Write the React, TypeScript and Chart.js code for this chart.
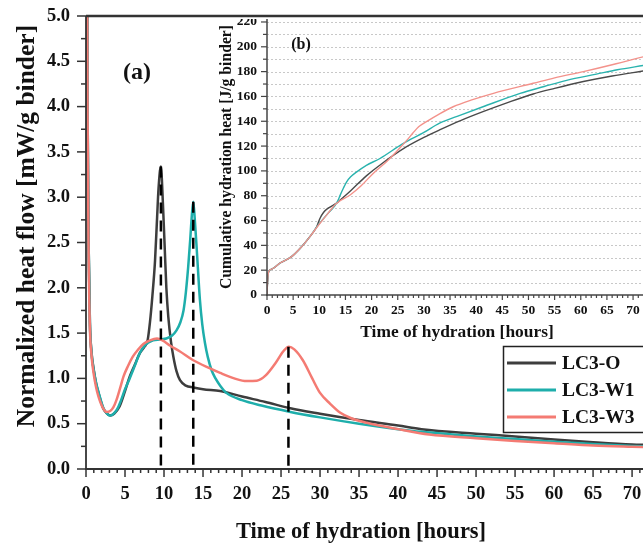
import React, { useEffect, useRef } from 'react';
import { Chart, registerables } from 'chart.js';

Chart.register(...registerables);

const FONT = "'Liberation Serif', 'Times New Roman', serif";

const seriesLabels = ['LC3-O', 'LC3-W1', 'LC3-W3'];
const seriesColors = ['#3d3d3d', '#1eaeab', '#f47b73'];
const insetColors = ['#4a4a4a', '#2ab3ae', '#f3928b'];

// ---- (a) normalized heat flow [mW/g binder] ----
const lc3oTime = [0.05, 0.2, 0.35, 0.5, 0.7, 0.95, 1.3, 1.6, 2.2, 2.6, 3.1, 3.6, 4.3, 5.0, 5.6, 6.3, 6.9, 7.5, 7.9, 8.2, 8.5, 8.85, 9.1, 9.3, 9.6, 9.85, 10.1, 10.3, 10.55, 10.9, 11.2, 11.6, 12.05, 12.8, 13.75, 15, 17.2, 20, 23, 26.2, 30, 35, 40, 43, 50, 55, 60, 65, 70, 72];
const lc3oHeat = [9, 4.0, 2.4, 1.62, 1.3, 1.12, 0.94, 0.84, 0.67, 0.62, 0.59, 0.61, 0.69, 0.86, 1.02, 1.16, 1.28, 1.35, 1.42, 1.62, 1.9, 2.3, 2.75, 3.1, 3.34, 2.95, 2.42, 2.0, 1.68, 1.4, 1.24, 1.08, 0.98, 0.92, 0.9, 0.88, 0.86, 0.8, 0.74, 0.67, 0.61, 0.54, 0.48, 0.44, 0.39, 0.36, 0.325, 0.295, 0.27, 0.265];

const lc3w1Time = [0.05, 0.2, 0.35, 0.5, 0.7, 0.95, 1.3, 1.6, 2.2, 2.6, 3.0, 3.4, 4.0, 4.5, 5.0, 5.6, 6.3, 6.9, 7.6, 8.6, 9.5, 10.3, 11.0, 11.6, 12.1, 12.5, 12.8, 13.1, 13.35, 13.55, 13.75, 13.95, 14.2, 14.6, 14.9, 15.25, 15.6, 16.1, 16.6, 17.2, 18, 20, 22.5, 26.2, 30, 35, 40, 43, 50, 55, 60, 65, 70, 72];
const lc3w1Heat = [9, 4.0, 2.4, 1.61, 1.29, 1.11, 0.95, 0.85, 0.68, 0.62, 0.59, 0.6, 0.66, 0.76, 0.88, 1.0, 1.15, 1.28, 1.37, 1.42, 1.43, 1.44, 1.47, 1.53, 1.62, 1.75, 1.95, 2.23, 2.52, 2.78, 2.95, 2.75, 2.42, 1.87, 1.6, 1.39, 1.24, 1.09, 1.0, 0.92, 0.84, 0.76, 0.7, 0.63, 0.57, 0.5, 0.44, 0.41, 0.36, 0.33, 0.3, 0.275, 0.255, 0.25];

const lc3w3Time = [0.05, 0.2, 0.35, 0.5, 0.7, 0.95, 1.3, 1.6, 2.2, 2.65, 3.1, 3.5, 3.9, 4.4, 4.8, 5.4, 6.0, 6.7, 7.35, 8.2, 9.1, 9.8, 10.8, 12, 13.75, 15.9, 17.2, 19, 20.6, 21.9, 23, 24.3, 25.3, 26.0, 26.7, 27.8, 29, 30, 31.3, 32.6, 34, 36, 40, 44, 50, 55, 60, 65, 70, 72];
const lc3w3Heat = [9, 3.9, 2.3, 1.56, 1.26, 1.07, 0.9, 0.8, 0.67, 0.63, 0.64, 0.68, 0.76, 0.9, 1.02, 1.14, 1.24, 1.32, 1.38, 1.42, 1.44, 1.42, 1.36, 1.3, 1.2, 1.11, 1.06, 1.0, 0.97, 0.975, 1.03, 1.17, 1.3, 1.35, 1.32, 1.2, 1.0, 0.84, 0.72, 0.62, 0.56, 0.51, 0.44, 0.38, 0.34, 0.31, 0.285, 0.26, 0.245, 0.24];

const peakTimes = [9.6, 13.75, 25.95];
const peakHeats = [3.34, 2.95, 1.35];

const mainXTicks = [0, 5, 10, 15, 20, 25, 30, 35, 40, 45, 50, 55, 60, 65, 70];
const mainYTicks = [0, 0.5, 1, 1.5, 2, 2.5, 3, 3.5, 4, 4.5, 5];

// ---- (b) cumulative hydration heat [J/g binder] ----
const lc3oCumTime = [0, 0.1, 0.3, 1, 2.5, 4.7, 6.4, 8.2, 9.5, 10.1, 10.8, 11.7, 13.3, 14, 16, 19, 22, 26.7, 30, 33, 37, 41.3, 46, 50.9, 55, 60.5, 66, 72];
const lc3oCum = [0, 10, 18.5, 21, 25.8, 30.9, 37.8, 47, 55, 61.5, 66.5, 70, 74, 76.5, 84, 96, 106, 119.5, 127, 133, 140.5, 147.7, 155, 162, 166.5, 172, 176.5, 180.5];

const lc3w1CumTime = [0, 0.1, 0.3, 1, 2.5, 4.7, 6.4, 8.2, 9.8, 11.7, 13.0, 13.6, 14.0, 14.6, 15.2, 16, 17.1, 19, 21.6, 26, 30, 33, 37, 41.3, 48.4, 53, 57.3, 63, 67, 72];
const lc3w1Cum = [0, 10, 18.5, 21, 25.8, 30.9, 37.8, 47, 56.4, 66, 72, 76.5, 80.5, 86, 91, 95.2, 99, 104.5, 110, 122, 131, 138.5, 145, 151.7, 162.5, 168, 173, 178, 181.5, 185];

const lc3w3CumTime = [0, 0.1, 0.3, 1, 2.5, 4.7, 6.4, 8.2, 9.8, 11.7, 13.3, 15.9, 18, 20.3, 23, 25.4, 26.8, 27.9, 29, 30.5, 33, 35.6, 39, 43.3, 50.9, 55, 60.5, 66, 72];
const lc3w3Cum = [0, 10, 18.5, 21, 25.8, 30.9, 37.8, 47, 56, 66, 74, 80.6, 88, 98, 108, 118.5, 125, 130.5, 135.5, 139.7, 146, 151.7, 157, 162.5, 170.6, 175, 180, 185.5, 192];

const insetXTicks = [0, 5, 10, 15, 20, 25, 30, 35, 40, 45, 50, 55, 60, 65, 70];
const insetYTicks = [0, 20, 40, 60, 80, 100, 120, 140, 160, 180, 200, 220];

const toPts = (xs: number[], ys: number[]) => xs.map((x, i) => ({ x, y: ys[i] }));

function line(ctx: CanvasRenderingContext2D, x1: number, y1: number, x2: number, y2: number) {
  ctx.beginPath();
  ctx.moveTo(x1, y1);
  ctx.lineTo(x2, y2);
  ctx.stroke();
}

function text(ctx: CanvasRenderingContext2D, s: string, x: number, y: number, size: number, rot = 0, align: CanvasTextAlign = 'center') {
  ctx.save();
  ctx.translate(x, y);
  if (rot) ctx.rotate(rot);
  ctx.font = `bold ${size}px ${FONT}`;
  ctx.fillStyle = '#111';
  ctx.textAlign = align;
  ctx.textBaseline = 'middle';
  ctx.fillText(s, 0, 0);
  ctx.restore();
}

const mainDecor = {
  id: 'mainDecor',
  afterDraw(chart: any) {
    const { ctx, chartArea: a, scales } = chart;
    const xs = scales.x;
    const ys = scales.y;
    ctx.save();
    ctx.strokeStyle = '#333';
    ctx.lineWidth = 1.5;
    for (let i = 0; i <= Math.floor(xs.max); i++) {
      const x = xs.getPixelForValue(i);
      line(ctx, x, a.bottom, x, a.bottom + (i % 5 === 0 ? 8 : 4));
    }
    for (let i = 0; i <= 20; i++) {
      const y = ys.getPixelForValue(i * 0.25);
      line(ctx, a.left - (i % 2 === 0 ? 9 : 5), y, a.left, y);
    }
    ctx.lineWidth = 1.8;
    line(ctx, a.left, a.top, a.left, a.bottom + 1);
    line(ctx, a.left - 1, a.bottom, a.right, a.bottom);
    ctx.lineWidth = 2.5;
    line(ctx, a.left, a.top, a.right, a.top);

    text(ctx, 'Normalized heat flow [mW/g binder]', 27, 226, 25.5, -Math.PI / 2);
    text(ctx, 'Time of hydration [hours]', 361, 532, 22.5);
    text(ctx, '(a)', 137, 73, 24);

    // legend
    ctx.fillStyle = '#fff';
    ctx.fillRect(503, 346, 160, 86);
    ctx.strokeStyle = '#222';
    ctx.lineWidth = 1.5;
    ctx.strokeRect(503.5, 346.5, 160, 86);
    seriesLabels.forEach((lab, i) => {
      const y = 363 + i * 27;
      ctx.strokeStyle = seriesColors[i];
      ctx.lineWidth = 3;
      line(ctx, 507, y, 556, y);
      text(ctx, lab, 562, y + 1, 19.5, 0, 'left');
    });
    ctx.restore();
  },
};

const insetDecor = {
  id: 'insetDecor',
  beforeDatasetsDraw(chart: any) {
    const { ctx, chartArea: a, scales } = chart;
    const ys = scales.y;
    ctx.save();
    ctx.strokeStyle = '#c8c8c8';
    ctx.lineWidth = 1;
    ctx.setLineDash([2, 2]);
    for (let v = 10; v <= ys.max; v += 10) {
      const y = Math.round(ys.getPixelForValue(v)) + 0.5;
      line(ctx, a.left, y, a.right, y);
    }
    ctx.restore();
  },
  afterDraw(chart: any) {
    const { ctx, chartArea: a, scales } = chart;
    const xs = scales.x;
    const ys = scales.y;
    ctx.save();
    ctx.strokeStyle = '#444';
    ctx.lineWidth = 1.2;
    for (let i = 0; i <= Math.floor(xs.max); i++) {
      const x = xs.getPixelForValue(i);
      line(ctx, x, a.bottom, x, a.bottom + (i % 5 === 0 ? 5 : 3));
    }
    for (let v = 0; v <= ys.max; v += 10) {
      const y = ys.getPixelForValue(v);
      line(ctx, a.left - (v % 20 === 0 ? 6 : 4), y, a.left, y);
    }
    ctx.lineWidth = 1.5;
    line(ctx, a.left, a.top, a.left, a.bottom + 1);
    line(ctx, a.left - 1, a.bottom, a.right, a.bottom);

    text(ctx, 'Cumulative hydration heat [J/g binder]', 19, (a.top + a.bottom) / 2, 15.7, -Math.PI / 2);
    text(ctx, 'Time of hydration [hours]', 249, 314, 17.4);
    text(ctx, '(b)', 93, 26, 16);
    ctx.restore();
  },
};

const tickFont = (size: number) => ({ family: FONT, size, weight: 'bold' as const });

export default function App() {
  const mainRef = useRef<HTMLCanvasElement>(null);
  const insetRef = useRef<HTMLCanvasElement>(null);

  useEffect(() => {
    const curve = (label: string, pts: any[], color: string, w: number) => ({
      label,
      data: pts,
      borderColor: color,
      backgroundColor: color,
      borderWidth: w,
      pointRadius: 0,
      fill: false,
      cubicInterpolationMode: 'monotone' as const,
    });
    const dashes = peakTimes.map((t, i) => ({
      label: 'peak' + i,
      data: [{ x: t, y: peakHeats[i] }, { x: t, y: 0 }],
      borderColor: '#000',
      borderWidth: 2.5,
      borderDash: [11, 7],
      pointRadius: 0,
      fill: false,
    }));

    const main = new Chart(mainRef.current!, {
      type: 'line',
      data: {
        datasets: [
          ...dashes,
          curve(seriesLabels[2], toPts(lc3w3Time, lc3w3Heat), seriesColors[2], 2.5),
          curve(seriesLabels[1], toPts(lc3w1Time, lc3w1Heat), seriesColors[1], 2.5),
          curve(seriesLabels[0], toPts(lc3oTime, lc3oHeat), seriesColors[0], 2.5),
        ] as any,
      },
      options: {
        responsive: false,
        animation: false,
        events: [],
        layout: { padding: { top: 16, left: 0, right: 0, bottom: 0 } },
        plugins: { legend: { display: false }, tooltip: { enabled: false } },
        scales: {
          x: {
            type: 'linear',
            min: 0,
            max: 71.4,
            afterBuildTicks: (s: any) => { s.ticks = mainXTicks.map((value) => ({ value })); },
            afterFit: (s: any) => { s.height = 77; s.paddingLeft = 0; s.paddingRight = 0; },
            grid: { display: false, drawTicks: false },
            border: { display: false },
            ticks: { padding: 14, font: tickFont(18.5), color: '#111', maxRotation: 0, autoSkip: false },
          },
          y: {
            type: 'linear',
            min: 0,
            max: 5,
            afterBuildTicks: (s: any) => { s.ticks = mainYTicks.map((value) => ({ value })); },
            afterFit: (s: any) => { s.width = 86; s.paddingTop = 0; s.paddingBottom = 0; },
            grid: { display: false, drawTicks: false },
            border: { display: false },
            ticks: { padding: 16, font: tickFont(18.5), color: '#111', callback: (v: any) => Number(v).toFixed(1) },
          },
        },
      },
      plugins: [mainDecor],
    });

    const inset = new Chart(insetRef.current!, {
      type: 'line',
      data: {
        datasets: [
          curve(seriesLabels[2], toPts(lc3w3CumTime, lc3w3Cum), insetColors[2], 1.4),
          curve(seriesLabels[1], toPts(lc3w1CumTime, lc3w1Cum), insetColors[1], 1.4),
          curve(seriesLabels[0], toPts(lc3oCumTime, lc3oCum), insetColors[0], 1.4),
        ] as any,
      },
      options: {
        responsive: false,
        animation: false,
        events: [],
        layout: { padding: 0 },
        plugins: { legend: { display: false }, tooltip: { enabled: false } },
        scales: {
          x: {
            type: 'linear',
            min: 0,
            max: 71.9,
            afterBuildTicks: (s: any) => { s.ticks = insetXTicks.map((value) => ({ value })); },
            afterFit: (s: any) => { s.height = 48; s.paddingLeft = 0; s.paddingRight = 0; },
            grid: { display: false, drawTicks: false },
            border: { display: false },
            ticks: { padding: 7, font: tickFont(13.5), color: '#111', maxRotation: 0, autoSkip: false },
          },
          y: {
            type: 'linear',
            min: 0,
            max: 222.4,
            afterBuildTicks: (s: any) => { s.ticks = insetYTicks.map((value) => ({ value })); },
            afterFit: (s: any) => { s.width = 59; s.paddingTop = 0; s.paddingBottom = 0; },
            grid: { display: false, drawTicks: false },
            border: { display: false },
            ticks: { padding: 10, font: tickFont(13.5), color: '#111' },
          },
        },
      },
      plugins: [insetDecor],
    });

    return () => {
      main.destroy();
      inset.destroy();
    };
  }, []);

  return (
    <div style={{ position: 'absolute', left: 0, top: 0, width: 643, height: 546, background: '#fff', overflow: 'hidden' }}>
      <canvas ref={mainRef} width={643} height={546} style={{ position: 'absolute', left: 0, top: 0 }} />
      <canvas ref={insetRef} width={435} height={324} style={{ position: 'absolute', left: 208, top: 19, background: '#fff' }} />
    </div>
  );
}
